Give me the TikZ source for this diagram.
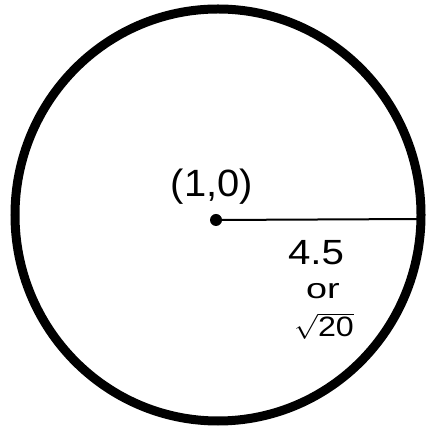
\documentclass[tikz,border=0pt]{standalone}
\usepackage{fontspec}
\setmainfont{Liberation Sans}
\begin{document}
\begin{tikzpicture}[x=1pt,y=1pt,
  lbl/.style={inner sep=0pt}]
\useasboundingbox (0,0) rectangle (425,430);
\fill[white] (0,0) rectangle (425,430);
\coordinate (c) at (218,215);
\draw[line width=9pt] (c) ellipse [x radius=203, y radius=206];
\coordinate (edge) at (421,211);
\fill (216,210) circle (6);
\coordinate (dot) at (216,210);
\draw[line width=2pt] (dot) -- (edge);
\node[lbl, font=\fontsize{38}{40}\selectfont, xscale=1.05] (p) at (212,243) {(1,0)};
\node[lbl, font=\fontsize{35}{37}\selectfont, xscale=1.15] (r1) at (316,177) {4.5};
\node[lbl, font=\fontsize{28}{30}\selectfont, xscale=1.35] (r2) at (323,139) {or};
\node[lbl, font=\fontsize{28}{30}\selectfont, xscale=1.15] (r3) at (324,104) {$\sqrt{\mbox{20}}$};
\end{tikzpicture}
\end{document}
